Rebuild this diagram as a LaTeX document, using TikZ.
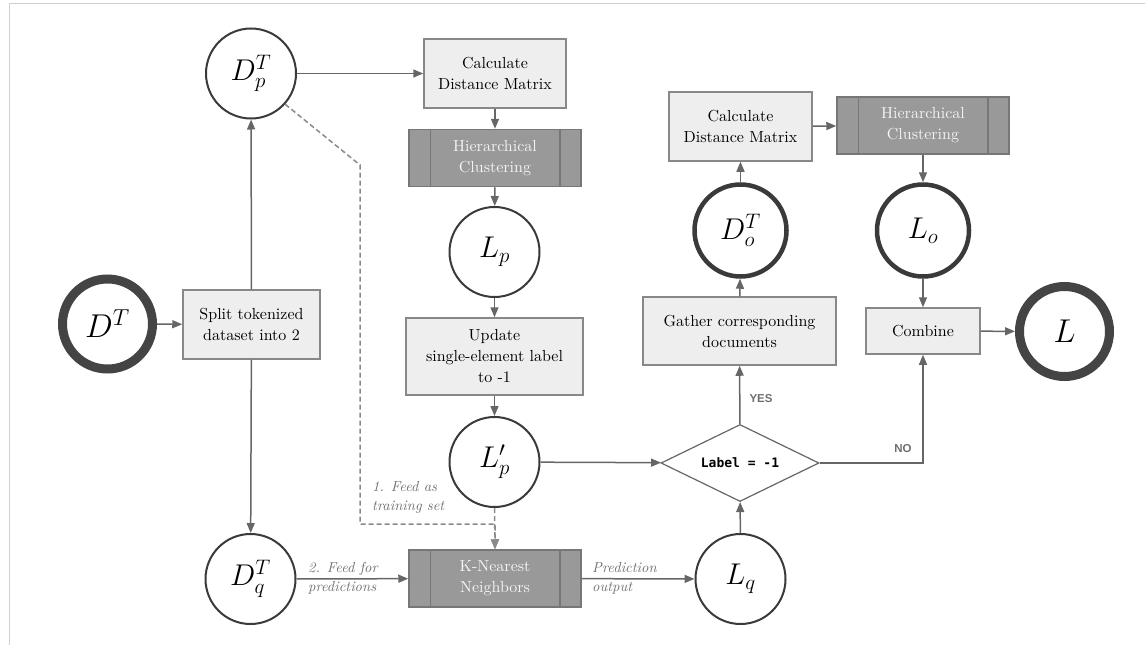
\RequirePackage{fix-cm}
\documentclass[tikz,border=0pt]{standalone}
\usepackage{fontspec}
\setmainfont{lmroman10}[Extension=.otf,UprightFont=*-regular,ItalicFont=*-italic,BoldFont=*-bold,BoldItalicFont=*-bolditalic]
\newfontfamily\monof{DejaVu Sans Mono}
\newfontfamily\sansf{Liberation Sans}
\usetikzlibrary{arrows.meta,shapes.geometric}
\definecolor{boxfill}{HTML}{EEEEEE}
\definecolor{boxline}{HTML}{888888}
\definecolor{procfill}{HTML}{999999}
\definecolor{procline}{HTML}{777777}
\definecolor{proctext}{HTML}{F4F4F4}
\definecolor{circline}{HTML}{3A3A3A}
\definecolor{thickline}{HTML}{444444}
\definecolor{connc}{HTML}{666666}
\definecolor{dashc}{HTML}{8A8A8A}
\definecolor{labc}{HTML}{707070}
\definecolor{ync}{HTML}{6E6E6E}
\definecolor{framec}{HTML}{D0D0D0}
\begin{document}
\begin{tikzpicture}[x=1pt,y=-1pt,
  box/.style={rectangle,draw=boxline,fill=boxfill,line width=1.5pt,align=center,inner sep=0pt,font=\fontsize{16}{21}\selectfont,text=black},
  procbox/.style={rectangle,draw=procline,fill=procfill,line width=1.5pt,align=center,inner sep=0pt,minimum width=172pt,minimum height=57pt,font=\fontsize{16}{21}\selectfont,text=proctext},
  thin/.style={circle,draw=circline,line width=2pt,fill=white,minimum size=90pt,inner sep=0pt,font=\fontsize{30}{30}\selectfont},
  midc/.style={thin,line width=4.5pt,minimum size=92pt},
  thickc/.style={thin,draw=thickline,line width=9pt,minimum size=90pt,font=\fontsize{33}{33}\selectfont},
  conn/.style={draw=connc,line width=1.5pt,-{Triangle[length=10pt,width=8pt]}},
  dconn/.style={conn,draw=dashc,dash pattern=on 5pt off 3pt},
  lab/.style={font=\fontsize{14.5}{19}\selectfont\itshape,text=labc,align=left,inner sep=0pt},
  yn/.style={font=\sansf\bfseries\fontsize{11.5}{13}\selectfont,text=ync,inner sep=0pt}
]
\useasboundingbox (0,0) rectangle (1145,645);
\draw[framec,line width=1.5pt] (9.5,645) -- (9.5,3.5) -- (1145,3.5);

% nodes
\node[thickc] (DT) at (107.5,324) {$D^T$};
\node[box,minimum width=137pt,minimum height=69pt] (split) at (251.5,324.5) {Split tokenized\\dataset into 2};
\node[thin] (DpT) at (251,73.5) {$D^T_p$};
\node[thin] (DqT) at (250.5,579) {$D^T_q$};
\node[box,minimum width=142pt,minimum height=69pt] (calc1) at (495,73.5) {Calculate\\Distance Matrix};
\node[procbox] (hc1) at (495,158) {Hierarchical\\Clustering};
\node[thin] (Lp) at (494.5,252) {$L_p$};
\node[box,minimum width=177pt,minimum height=77pt] (upd) at (494.5,356.5) {Update\\single-element label\\to -1};
\node[thin] (Lpp) at (494.5,462) {$L'_p$};
\node[procbox] (knn) at (495,578.5) {K-Nearest\\Neighbors};
\node[thin] (Lq) at (740.5,579) {$L_q$};
\node[diamond,aspect=2,draw=connc,fill=white,line width=1.2pt,minimum width=158pt,minimum height=77pt,inner sep=0pt] (dia) at (740,463) {\monof\bfseries\fontsize{13}{13}\selectfont Label = -1};
\node[box,minimum width=193pt,minimum height=68pt] (gath) at (739.5,331) {Gather corresponding\\documents};
\node[midc] (DoT) at (740.5,230.5) {$D^T_o$};
\node[box,minimum width=143pt,minimum height=69pt] (calc2) at (740.5,126.5) {Calculate\\Distance Matrix};
\node[procbox] (hc2) at (923,125.5) {Hierarchical\\Clustering};
\node[midc] (Lo) at (923,230.5) {$L_o$};
\node[box,minimum width=114pt,minimum height=46pt] (comb) at (923,331) {Combine};
\node[thickc] (L) at (1064.5,331.5) {$L$};

% side bars of predefined processes
\foreach \n in {hc1,hc2,knn} {
  \draw[procline,line width=1.5pt] ([xshift=22pt]\n.north west) -- ([xshift=22pt]\n.south west);
  \draw[procline,line width=1.5pt] ([xshift=-22pt]\n.north east) -- ([xshift=-22pt]\n.south east);
}

% connectors
\draw[conn] (DT) -- (split);
\draw[conn] (split) -- (DpT);
\draw[conn] (split) -- (DqT);
\draw[conn] (DpT) -- (calc1);
\draw[conn] (calc1) -- (hc1);
\draw[conn] (hc1) -- (Lp);
\draw[conn] (Lp) -- (upd);
\draw[conn] (upd) -- (Lpp);
\draw[conn] (Lpp) -- (dia);
\draw[conn] (Lq) -- (dia);
\draw[conn] (dia) -- (gath);
\draw[conn] (gath) -- (DoT);
\draw[conn] (DoT) -- (calc2);
\draw[conn] (calc2) -- (hc2);
\draw[conn] (hc2) -- (Lo);
\draw[conn] (Lo) -- (comb);
\draw[conn] (comb) -- (L);
\draw[conn] (dia.east) -| (comb.south);
\draw[conn] (DqT) -- (knn);
\draw[conn] (knn) -- (Lq);

\coordinate (d1) at (360,165);
\coordinate (d2) at (360,524);
\draw[dconn] (DpT.-42) -- (d1) -- (d2) -- (d2 -| knn.north) -- (knn.north);
\draw[dconn] (Lpp.south) -- (knn.north);

% labels
\node[yn] (yes) at (761,399) {YES};
\node[yn] (no) at (903,449) {NO};
\node[lab,anchor=west] (l1) at (372,497.5) {1. Feed as\\training set};
\node[lab,anchor=west] (l2) at (308,578.5) {2. Feed for\\predictions};
\node[lab,anchor=west] (l3) at (592,578.5) {Prediction\\output};
\end{tikzpicture}
\end{document}
